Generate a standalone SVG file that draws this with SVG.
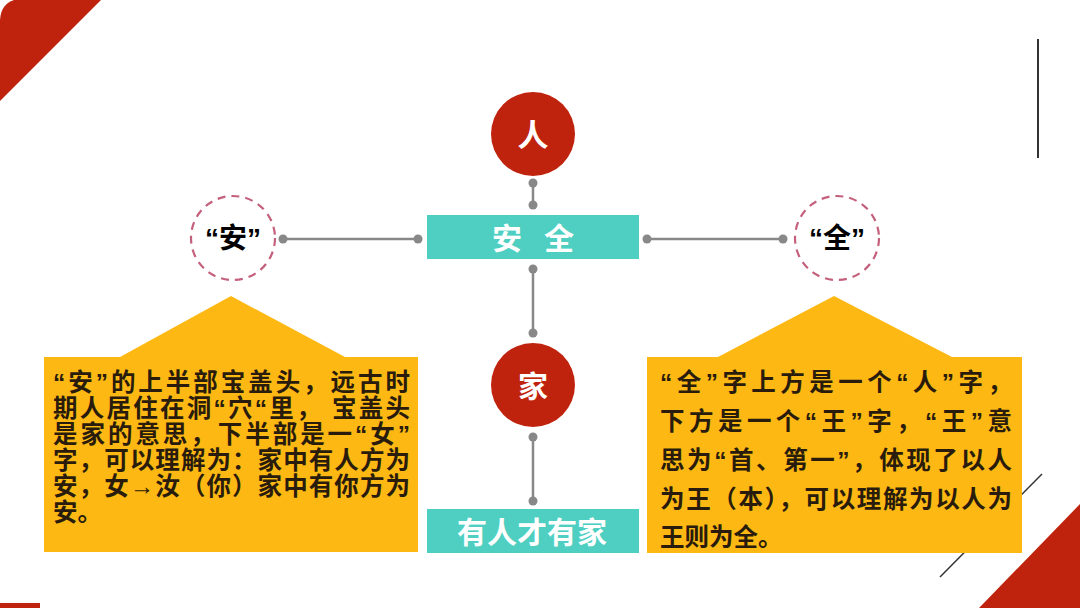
<svg xmlns="http://www.w3.org/2000/svg" width="1080" height="608" viewBox="0 0 1080 608">
<style>
.red{fill:#C0230D}
.teal{fill:#4FCFC1}
.yel{fill:#FDB813}
.dash{fill:none;stroke:#C4607C;stroke-width:2.2;stroke-dasharray:8 6}
.ln{stroke:#888;stroke-width:2.5}
.dot{fill:#888}
.wt{font-family:"Noto Sans CJK SC",sans-serif;font-weight:bold;fill:#fff}
.bt{font-family:"Liberation Sans","Noto Sans CJK SC",sans-serif;font-weight:bold;fill:#2a1c0c;font-size:24.5px}
.qt{font-family:"Liberation Sans","Noto Sans CJK SC",sans-serif;font-weight:bold;fill:#000;font-size:28px}
</style>
<rect width="1080" height="608" fill="#fff"/>
<g id="decor">
<path class="red" d="M14 0 L101 0 L0 101 L0 20 Q1 4 14 0 Z"/>
<path class="red" d="M1080 504 L979 608 L1080 608 Z"/>
<rect class="red" x="0" y="603" width="40" height="5"/>
<line x1="1038" y1="39" x2="1038" y2="158" stroke="#333" stroke-width="2"/>
<line x1="1042" y1="474" x2="940" y2="577" stroke="#333" stroke-width="1.5"/>
</g>
<g id="connectors">
<line class="ln" x1="533" y1="183" x2="533" y2="205"/><circle class="dot" cx="533" cy="183" r="4.5"/><circle class="dot" cx="533" cy="205" r="4.5"/>
<line class="ln" x1="533" y1="269" x2="533" y2="333"/><circle class="dot" cx="533" cy="269" r="4.5"/><circle class="dot" cx="533" cy="333" r="4.5"/>
<line class="ln" x1="533" y1="437" x2="533" y2="501"/><circle class="dot" cx="533" cy="437" r="4.5"/><circle class="dot" cx="533" cy="501" r="4.5"/>
<line class="ln" x1="283" y1="239" x2="418" y2="239"/><circle class="dot" cx="283" cy="239" r="4.5"/><circle class="dot" cx="418" cy="239" r="4.5"/>
<line class="ln" x1="647" y1="239" x2="783" y2="239"/><circle class="dot" cx="647" cy="239" r="4.5"/><circle class="dot" cx="783" cy="239" r="4.5"/>
</g>
<g id="node-ren">
<circle class="red" cx="533" cy="134" r="42"/>
<text class="wt" x="533" y="146" font-size="31" text-anchor="middle">人</text>
</g>
<g id="node-anquan">
<rect class="teal" x="427" y="215" width="212" height="44"/>
<text class="wt" x="507 533 559" y="249" font-size="30" text-anchor="middle">安 全</text>
</g>
<g id="node-jia">
<circle class="red" cx="533" cy="385" r="42"/>
<text class="wt" x="533" y="397" font-size="30" text-anchor="middle">家</text>
</g>
<g id="node-youren">
<rect class="teal" x="427" y="509" width="212" height="44"/>
<text class="wt" x="532" y="543" font-size="30" text-anchor="middle">有人才有家</text>
</g>
<g id="node-an">
<circle class="dash" cx="233" cy="238" r="42"/>
<text class="qt" x="233" y="248" text-anchor="middle">“安”</text>
</g>
<g id="node-quan">
<circle class="dash" cx="837" cy="238" r="42"/>
<text class="qt" x="837" y="248" text-anchor="middle">“全”</text>
</g>
<g id="note-an">
<polygon class="yel" points="44,357 120,357 231,296 345,357 418,357 418,552 44,552"/>
<text class="bt" x="53" y="391" textLength="357" lengthAdjust="spacing">“安”的上半部宝盖头，远古时</text>
<text class="bt" x="53" y="417" textLength="357" lengthAdjust="spacing">期人居住在洞“穴“里，  宝盖头</text>
<text class="bt" x="53" y="443" textLength="357" lengthAdjust="spacing">是家的意思，下半部是一“女”</text>
<text class="bt" x="53" y="469" textLength="357" lengthAdjust="spacing">字，可以理解为：家中有人方为</text>
<text class="bt" x="53" y="495" textLength="357" lengthAdjust="spacing">安，女→汝（你）家中有你方为</text>
<text class="bt" x="53" y="521">安。</text>
</g>
<g id="note-quan">
<polygon class="yel" points="647,357 718,357 834,296 952,357 1022,357 1022,553 647,553"/>
<text class="bt" x="660" y="391" textLength="352" lengthAdjust="spacing">“全”字上方是一个“人”字，</text>
<text class="bt" x="660" y="430" textLength="352" lengthAdjust="spacing">下方是一个“王”字，“王”意</text>
<text class="bt" x="660" y="469" textLength="352" lengthAdjust="spacing">思为“首、第一”，体现了以人</text>
<text class="bt" x="660" y="508" textLength="352" lengthAdjust="spacing">为王（本），可以理解为以人为</text>
<text class="bt" x="660" y="546">王则为全。</text>
</g>
</svg>
